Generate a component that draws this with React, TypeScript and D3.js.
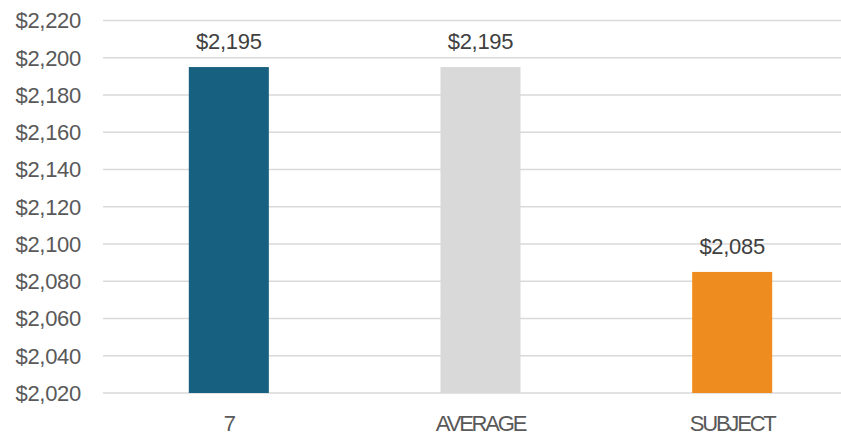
import React from "react";
import * as d3 from "d3";

const categories = ["7", "AVERAGE", "SUBJECT"];
const rents = [2195, 2195, 2085];
const barColors = ["#17607f", "#d9d9d9", "#ef8c1f"];
const tickValues = [2020, 2040, 2060, 2080, 2100, 2120, 2140, 2160, 2180, 2200, 2220];

const W = 841;
const H = 435;
const plot = { left: 103, right: 858, top: 20.5, bottom: 393 };

const fmt = (v: number) => "$" + d3.format(",")(v);

export default function App() {
  const x = d3
    .scaleBand<string>()
    .domain(categories)
    .range([plot.left, plot.right])
    .paddingInner(0.682)
    .paddingOuter(0.341);
  const y = d3.scaleLinear().domain([2020, 2220]).range([plot.bottom, plot.top]);

  return (
    <svg
      width={W}
      height={H}
      style={{ position: "absolute", left: 0, top: 0, background: "#fff" }}
      fontFamily="'Liberation Sans', Arial, sans-serif"
    >
      {tickValues.map((t) => (
        <g key={t}>
          <line x1={plot.left} x2={W} y1={y(t)} y2={y(t)} stroke="#d9d9d9" strokeWidth={1.5} />
          <text x={81} y={y(t)} dy="0.36em" textAnchor="end" fontSize={22} fill="#595959" letterSpacing="-0.3px">
            {fmt(t)}
          </text>
        </g>
      ))}
      {categories.map((c, i) => {
        const bx = x(c) as number;
        const bw = x.bandwidth();
        const top = y(rents[i]);
        return (
          <g key={c}>
            <rect x={bx} y={top} width={bw} height={y(2020) - top} fill={barColors[i]} />
            <text x={bx + bw / 2} y={top - 18} textAnchor="middle" fontSize={22} fill="#404040" letterSpacing="-0.3px">
              {fmt(rents[i])}
            </text>
            <text
              x={bx + bw / 2}
              y={431}
              textAnchor="middle"
              fontSize={22}
              fill="#595959"
              letterSpacing="-2.2px"
            >
              {c}
            </text>
          </g>
        );
      })}
    </svg>
  );
}
